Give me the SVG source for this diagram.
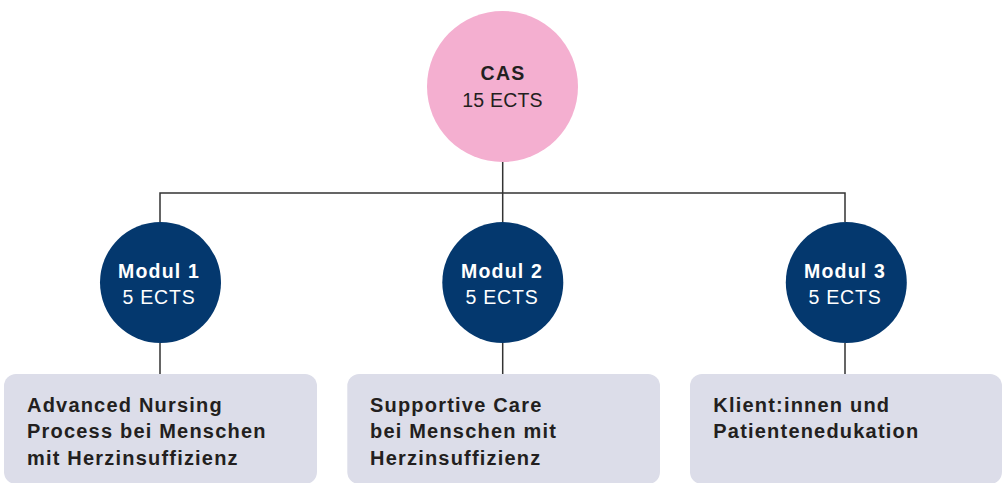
<svg xmlns="http://www.w3.org/2000/svg" width="1006" height="483" viewBox="0 0 1006 483">
<style>
.line{fill:none;stroke:#333333;stroke-width:1.5}
.mod{fill:#04386e}
.box{fill:#dcdde9}
.t{font-family:"Liberation Sans",Arial,sans-serif;font-size:19.5px;text-anchor:middle;letter-spacing:0.8px}
.w{fill:#ffffff}
.b{font-weight:bold;letter-spacing:1.2px}
.c{letter-spacing:0.2px}
.bt{font-family:"Liberation Sans",Arial,sans-serif;font-size:20px;font-weight:bold;fill:#231f20;letter-spacing:1.2px}
</style>
<rect width="1006" height="483" fill="#ffffff"/>
<g id="connectors">
<path class="line" d="M502.7 162V193 M160 222V193H845V222 M502.7 193V222 M160 343V374 M502.7 343V374 M845 343V374"/>
</g>
<g id="cas">
<circle cx="502.5" cy="86.5" r="75.5" fill="#f4afd0"/>
<text class="t b" x="503" y="80.3" fill="#231f20">CAS</text>
<text class="t c" x="502.5" y="107.3" fill="#231f20">15 ECTS</text>
</g>
<g id="modul1">
<circle class="mod" cx="160.5" cy="282.5" r="60.5"/>
<text class="t b w" x="159" y="277.7">Modul 1</text>
<text class="t w" x="159" y="304">5 ECTS</text>
</g>
<g id="modul2">
<circle class="mod" cx="502.8" cy="282.5" r="60.5"/>
<text class="t b w" x="502" y="277.7">Modul 2</text>
<text class="t w" x="502" y="304">5 ECTS</text>
</g>
<g id="modul3">
<circle class="mod" cx="846.3" cy="282.5" r="60.5"/>
<text class="t b w" x="845" y="277.7">Modul 3</text>
<text class="t w" x="845" y="304">5 ECTS</text>
</g>
<g id="box1">
<rect class="box" x="4" y="374" width="313" height="110" rx="12"/>
<text class="bt" x="27" y="411.5">Advanced Nursing</text>
<text class="bt" x="27" y="438.3">Process bei Menschen</text>
<text class="bt" x="27" y="465">mit Herzinsuffizienz</text>
</g>
<g id="box2">
<rect class="box" x="347.3" y="374" width="312.7" height="110" rx="12"/>
<text class="bt" x="370" y="411.5">Supportive Care</text>
<text class="bt" x="370" y="438.3">bei Menschen mit</text>
<text class="bt" x="370" y="465">Herzinsuffizienz</text>
</g>
<g id="box3">
<rect class="box" x="690" y="374" width="312" height="110" rx="12"/>
<text class="bt" x="713.3" y="411.5">Klient:innen und</text>
<text class="bt" x="713.3" y="438.3">Patientenedukation</text>
</g>
</svg>
